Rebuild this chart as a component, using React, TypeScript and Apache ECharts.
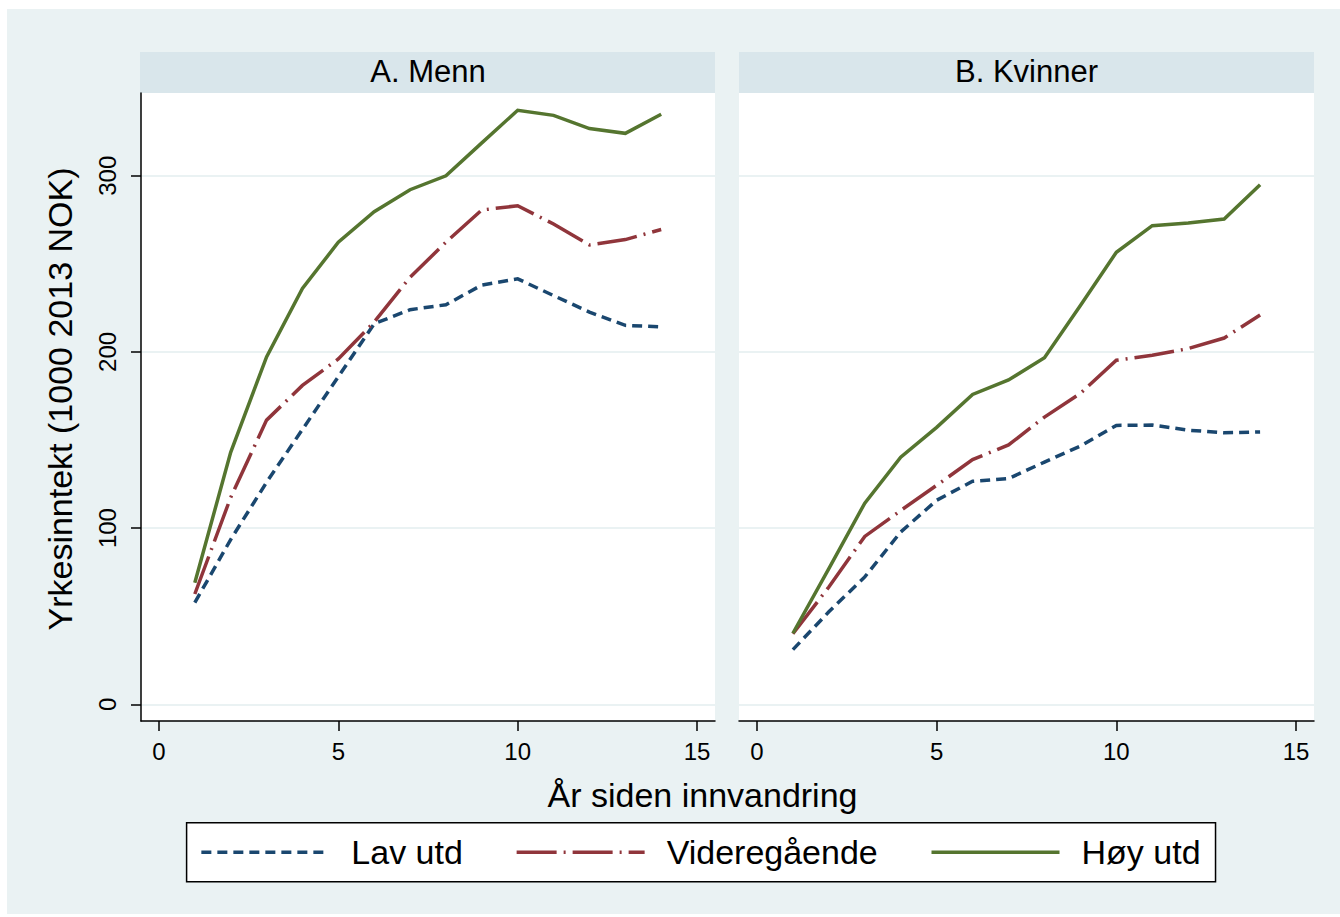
import { useEffect, useRef } from 'react';
import * as echarts from 'echarts';

// ---- data ----
const years = [1, 2, 3, 4, 5, 6, 7, 8, 9, 10, 11, 12, 13, 14];
const seriesNames = ['Lav utd', 'Videregående', 'Høy utd'];
const panelTitles = ['A. Menn', 'B. Kvinner'];
const xTicks = [0, 5, 10, 15];
const yTicks = [0, 100, 200, 300];
const xTitle = 'År siden innvandring';
const yTitle = 'Yrkesinntekt (1000 2013 NOK)';

const menLav = [57.7, 93.5, 126, 156, 186, 216, 224, 226.8, 238, 241.5, 232, 222.6, 215.1, 214.2];
const menVgs = [62.6, 117.4, 161.3, 181, 196, 217, 242.4, 262.3, 280.6, 283, 272.6, 260.8, 263.8, 269.5];
const menHoy = [69, 143, 197.2, 236, 262.3, 279.6, 292.1, 300, 318.7, 337.2, 334.3, 326.8, 324.1, 334.9];
const womenLav = [31, 52.5, 72.3, 97.8, 115.8, 126.6, 128.1, 137.5, 146.6, 158.3, 158.5, 155.6, 154.1, 154.6];
const womenVgs = [40, 66.6, 95.3, 110, 124.3, 138.9, 147.2, 163, 176.5, 195.3, 198.1, 201.9, 207.9, 221];
const womenHoy = [40.3, 77, 114.2, 140.3, 157.2, 175.9, 184.1, 196.7, 226.4, 256.6, 271.7, 273.2, 275.5, 294.9];

const panels = [
  [menLav, menVgs, menHoy],
  [womenLav, womenVgs, womenHoy],
];

// ---- style ----
const FONT = '"Liberation Sans", Arial, Helvetica, sans-serif';
const BG = '#eaf2f3';
const STRIP = '#d9e6eb';
const COLORS = ['#1a476f', '#90353b', '#55752f'];
const DASHES: any[] = [[10, 6], [40, 7, 2, 7], 'solid'];
const LINE_W = 3.5;

const GRID_TOP = 84;
const GRID_H = 628;
const GRIDS = [
  { left: 134, width: 574 },
  { left: 732, width: 575 },
];

export default function App() {
  const ref = useRef<HTMLDivElement>(null);

  useEffect(() => {
    if (!ref.current) return;
    const chart = echarts.init(ref.current, undefined, { renderer: 'svg' });

    const grid = GRIDS.map((g) => ({
      left: g.left,
      top: GRID_TOP,
      width: g.width,
      height: GRID_H,
      show: true,
      backgroundColor: '#ffffff',
      borderWidth: 0,
      containLabel: false,
    }));

    const xAxis = GRIDS.map((_, i) => ({
      type: 'value',
      gridIndex: i,
      min: -0.5,
      max: 15.5,
      axisLine: { show: true, onZero: false, lineStyle: { color: '#000', width: 1.5 } },
      axisTick: { show: true, length: 10, customValues: xTicks, lineStyle: { color: '#000', width: 1.5 } },
      axisLabel: { show: true, customValues: xTicks, margin: 18, fontSize: 24, color: '#000', fontFamily: FONT },
      splitLine: { show: false },
    }));

    const yAxis = GRIDS.map((_, i) => ({
      type: 'value',
      gridIndex: i,
      min: -9.5,
      max: 347,
      axisLine: { show: i === 0, onZero: false, lineStyle: { color: '#000', width: 1.5 } },
      axisTick: { show: i === 0, length: 10, customValues: yTicks, lineStyle: { color: '#000', width: 1.5 } },
      axisLabel: {
        show: i === 0,
        customValues: yTicks,
        rotate: 90,
        margin: 22,
        fontSize: 24,
        color: '#000',
        fontFamily: FONT,
      },
      splitLine: { show: true, lineStyle: { color: BG, width: 2 } },
    }));

    const series: any[] = [];
    panels.forEach((panel, p) => {
      panel.forEach((vals, s) => {
        series.push({
          type: 'line',
          name: seriesNames[s],
          xAxisIndex: p,
          yAxisIndex: p,
          data: years.map((x, k) => [x, vals[k]]),
          symbol: 'none',
          showSymbol: false,
          silent: true,
          color: COLORS[s],
          lineStyle: { color: COLORS[s], width: LINE_W, type: DASHES[s], cap: 'butt', join: 'miter' },
          z: 2 + s,
        });
      });
    });

    const graphic: any[] = [];
    GRIDS.forEach((g, i) => {
      graphic.push({
        type: 'rect',
        shape: { x: g.left - (i === 0 ? 1 : 0), y: 43, width: g.width + (i === 0 ? 1 : 0), height: 41 },
        style: { fill: STRIP },
        silent: true,
      });
      graphic.push({
        type: 'text',
        x: g.left + g.width / 2,
        y: 62,
        style: {
          text: panelTitles[i],
          fontSize: 31,
          fontFamily: FONT,
          fill: '#000',
          align: 'center',
          verticalAlign: 'middle',
        },
        silent: true,
      });
    });
    graphic.push({
      type: 'text',
      x: 53,
      y: 390,
      rotation: Math.PI / 2,
      style: {
        text: yTitle,
        fontSize: 34,
        fontFamily: FONT,
        fill: '#000',
        align: 'center',
        verticalAlign: 'middle',
      },
      silent: true,
    });
    graphic.push({
      type: 'text',
      x: 695.5,
      y: 786,
      style: {
        text: xTitle,
        fontSize: 34,
        fontFamily: FONT,
        fill: '#000',
        align: 'center',
        verticalAlign: 'middle',
      },
      silent: true,
    });

    chart.setOption({
      animation: false,
      backgroundColor: BG,
      textStyle: { fontFamily: FONT },
      grid,
      xAxis,
      yAxis,
      series,
      graphic,
      legend: {
        data: seriesNames,
        left: 179.6,
        top: 813.7,
        orient: 'horizontal',
        selectedMode: false,
        itemWidth: 128,
        itemHeight: 14,
        itemGap: 52,
        padding: [12.5, 15, 12.5, 13],
        backgroundColor: '#ffffff',
        borderColor: '#000',
        borderWidth: 1.5,
        borderRadius: 0,
        itemStyle: { color: 'rgba(0,0,0,0)', borderColor: 'rgba(0,0,0,0)', borderWidth: 0, opacity: 0 },
        lineStyle: { width: LINE_W },
        textStyle: { fontSize: 34, color: '#000', fontFamily: FONT, padding: [0, 0, 0, 17] },
      },
    });

    return () => chart.dispose();
  }, []);

  return (
    <div
      ref={ref}
      style={{ position: 'absolute', left: 7, top: 9, width: 1333, height: 905 }}
    />
  );
}
